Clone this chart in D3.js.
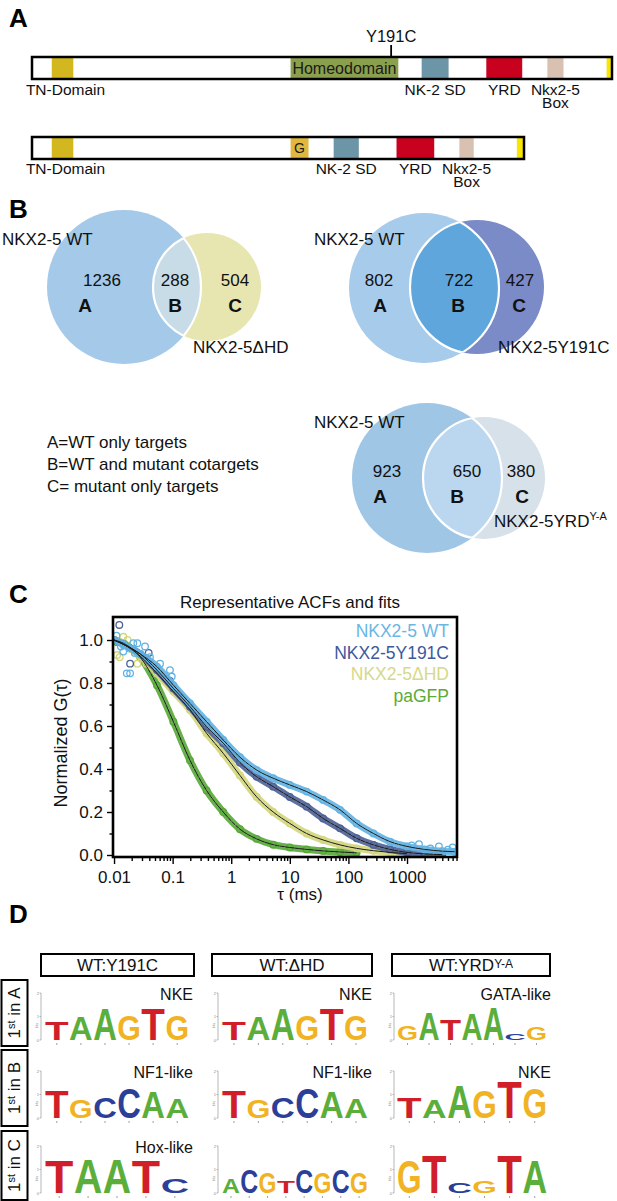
<!DOCTYPE html>
<html>
<head>
<meta charset="utf-8">
<script src="https://cdn.jsdelivr.net/npm/d3@7"></script>
<style>
  body { margin: 0; background: #fff; }
  svg { display: block; }
</style>
</head>
<body>
<svg id="fig"></svg>
<script>
const W = 617;
const H = 1201;
const FONT = "'Liberation Sans', Arial, Helvetica, sans-serif";

// ---------- data: panel A (domain positions in residues) ----------
const PROT_LEN = 324;
const DHD_LEN = 275;
const MUTATION_POS = 201;
const fullDomains = [
  { key: "TN", from: 12, to: 24 },
  { key: "HD", from: 145, to: 205 },
  { key: "SD", from: 218, to: 233 },
  { key: "YRD", from: 254, to: 274 },
  { key: "BOX", from: 288, to: 297 },
  { key: "END", from: 321, to: 324 },
];
const dhdDomains = [
  { key: "TN", from: 12, to: 24 },
  { key: "G", from: 145, to: 155 },
  { key: "SD", from: 169, to: 183 },
  { key: "YRD", from: 204, to: 225 },
  { key: "BOX", from: 239, to: 247 },
  { key: "END", from: 271, to: 275 },
];
const domainLabels = [
  { key: "TN", text: ["TN-Domain"] },
  { key: "SD", text: ["NK-2 SD"] },
  { key: "YRD", text: ["YRD"] },
  { key: "BOX", text: ["Nkx2-5", "Box"] },
];

// ---------- data: panel B ----------
const vennCounts = [
  [1236, 288, 504],
  [802, 722, 427],
  [923, 650, 380],
];
const vennNames = [
  ["NKX2-5 WT", "NKX2-5\u0394HD"],
  ["NKX2-5 WT", "NKX2-5Y191C"],
  ["NKX2-5 WT", "NKX2-5YRD"],
];
const vennLegend = [
  "A=WT only targets",
  "B=WT and mutant cotargets",
  "C= mutant only targets",
];

// ---------- data: panel C (tau in ms, normalized G) ----------
const tau = [0.01, 0.0144, 0.028, 0.054, 0.103, 0.198, 0.38, 0.73, 1.41, 2.72, 5.2, 10, 19.4, 37, 72, 138, 268, 515, 1000, 2000, 4000, 6500];
const wtG = [1.0, 0.98, 0.935, 0.876, 0.79, 0.705, 0.62, 0.535, 0.455, 0.395, 0.357, 0.326, 0.295, 0.256, 0.21, 0.147, 0.1, 0.062, 0.04, 0.026, 0.018, 0.015];
const y191cG = [1.0, 0.98, 0.935, 0.86, 0.775, 0.69, 0.597, 0.52, 0.43, 0.364, 0.318, 0.27, 0.225, 0.17, 0.124, 0.078, 0.047, 0.026, 0.012, 0.005, 0.002, null];
const dhdG = [1.0, 0.98, 0.925, 0.845, 0.76, 0.675, 0.566, 0.473, 0.37, 0.27, 0.2, 0.147, 0.1, 0.07, 0.047, 0.031, 0.02, 0.012, 0.006, null, null, null];
const gfpG = [1.0, 0.985, 0.92, 0.79, 0.62, 0.44, 0.3, 0.2, 0.12, 0.075, 0.048, 0.035, 0.026, 0.019, 0.014, 0.01, null, null, null, null, null, null];
// scattered raw points at the ends of the curves
const wtScatter = [[0.011, 1.02], [0.0131, 0.97], [0.0144, 0.946], [0.0165, 0.845], [0.0188, 0.845], [0.0213, 0.985], [0.025, 0.985], [0.0226, 0.94], [0.0338, 0.97], [0.041, 0.92], [0.061, 0.89], [0.09, 0.86], [0.0965, 0.83], [1200, 0.045], [1600, 0.05], [2500, 0.03], [3500, 0.04], [5000, 0.025], [6000, 0.035]];
const y191cScatter = [[0.0123, 1.07], [0.0188, 0.89], [0.039, 0.94], [0.09, 0.81]];
const dhdScatter = [[0.0113, 0.93], [0.0125, 0.92], [0.0144, 1.015], [0.017, 1.0], [0.025, 0.89], [0.0358, 0.89]];
const gfpScatter = [[0.0113, 0.99], [0.0188, 0.96]];
const acfNames = ["NKX2-5 WT", "NKX2-5Y191C", "NKX2-5\u0394HD", "paGFP"];
const yTicks = [0, 0.2, 0.4, 0.6, 0.8, 1.0];
const xTicks = [0.01, 0.1, 1, 10, 100, 1000];

// ---------- data: panel D (letter, bits) ----------
const logoColNames = ["WT:Y191C", "WT:\u0394HD", "WT:YRD"];
const logoRowNames = ["A", "B", "C"];
const motifA_Y191C = [["T", 0.8], ["A", 1.0], ["A", 1.36], ["G", 1.07], ["T", 1.36], ["G", 1.07]];
const motifA_DHD = [["T", 0.8], ["A", 1.0], ["A", 1.36], ["G", 1.07], ["T", 1.36], ["G", 1.07]];
const motifA_YRD = [["G", 0.64], ["A", 1.21], ["T", 0.93], ["A", 1.14], ["A", 1.43], ["C", 0.29], ["G", 0.57]];
const motifB_Y191C = [["T", 1.21], ["G", 0.79], ["C", 0.93], ["C", 1.29], ["A", 1.14], ["A", 0.86]];
const motifB_DHD = [["T", 1.21], ["G", 0.79], ["C", 0.93], ["C", 1.29], ["A", 1.14], ["A", 0.86]];
const motifB_YRD = [["T", 0.93], ["A", 0.79], ["A", 1.43], ["G", 1.21], ["T", 1.57], ["G", 1.29]];
const motifC_Y191C = [["T", 1.43], ["A", 1.5], ["A", 1.5], ["T", 1.43], ["C", 0.64]];
const motifC_DHD = [["A", 0.64], ["C", 1.0], ["G", 0.93], ["T", 0.5], ["C", 1.0], ["G", 0.93], ["C", 1.0], ["G", 0.93]];
const motifC_YRD = [["G", 1.43], ["T", 1.64], ["C", 0.43], ["G", 0.5], ["T", 1.64], ["A", 1.43]];
const motifNames = [
  ["NKE", "NKE", "GATA-like"],
  ["NF1-like", "NF1-like", "NKE"],
  ["Hox-like", "", ""],
];

// ---------- setup ----------
const svg = d3.select("#fig").attr("width", W).attr("height", H)
  .style("font-family", FONT);
svg.append("rect").attr("width", W).attr("height", H).attr("fill", "#fff");
const defs = svg.append("defs");

const txt = (g, x, y, s, size, opts = {}) =>
  g.append("text")
    .attr("x", x).attr("y", y)
    .attr("font-size", size)
    .attr("font-weight", opts.bold ? "bold" : null)
    .attr("text-anchor", opts.anchor || "start")
    .attr("fill", opts.fill || "#111")
    .text(s);

[["A", 9, 27], ["B", 9, 218], ["C", 9, 603], ["D", 9, 923]].forEach(([l, x, y]) =>
  txt(svg, x, y, l, 26, { bold: true, fill: "#000" }));

// ---------- panel A ----------
const domainColor = { TN: "#d3b71f", HD: "#8ba04c", SD: "#6c96a7", YRD: "#c8011f", BOX: "#d9c1b1", END: "#f8e500", G: "#e0b83f" };
const xAA = d3.scaleLinear().domain([1, PROT_LEN]).range([32, 612]);

const drawBar = (domains, len, y0, h, labelY) => {
  const g = svg.append("g");
  g.append("rect").attr("x", xAA(1)).attr("y", y0)
    .attr("width", xAA(len) - xAA(1)).attr("height", h).attr("fill", "#fff");
  g.selectAll("rect.dom").data(domains).join("rect").attr("class", "dom")
    .attr("x", (d) => xAA(d.from)).attr("y", y0)
    .attr("width", (d) => xAA(d.to) - xAA(d.from)).attr("height", h)
    .attr("fill", (d) => domainColor[d.key]);
  g.append("rect").attr("x", xAA(1)).attr("y", y0)
    .attr("width", xAA(len) - xAA(1)).attr("height", h)
    .attr("fill", "none").attr("stroke", "#000").attr("stroke-width", 2.5);
  domainLabels.forEach((lab) => {
    const d = domains.find((e) => e.key === lab.key);
    const cx = (xAA(d.from) + xAA(d.to)) / 2 + (lab.key === "TN" ? 3 : 0);
    const t = g.append("text").attr("y", labelY).attr("font-size", 15.5)
      .attr("text-anchor", "middle").attr("fill", "#111");
    lab.text.forEach((s, i) =>
      t.append("tspan").attr("x", cx).attr("dy", i ? 12.5 : 0).text(s));
  });
  return g;
};

const bar1 = drawBar(fullDomains, PROT_LEN, 57, 22, 95);
const hd = fullDomains.find((d) => d.key === "HD");
txt(bar1, (xAA(hd.from) + xAA(hd.to)) / 2, 74, "Homeodomain", 16, { anchor: "middle", fill: "#1a1a1a" });
bar1.append("line").attr("x1", xAA(MUTATION_POS)).attr("x2", xAA(MUTATION_POS))
  .attr("y1", 45).attr("y2", 57).attr("stroke", "#000").attr("stroke-width", 1.8);
txt(bar1, xAA(MUTATION_POS), 42, "Y191C", 16.5, { anchor: "middle" });

const bar2 = drawBar(dhdDomains, DHD_LEN, 137, 22, 174);
const gd = dhdDomains.find((d) => d.key === "G");
txt(bar2, (xAA(gd.from) + xAA(gd.to)) / 2, 153, "G", 14, { anchor: "middle", fill: "#1a1a1a" });

// ---------- panel B ----------
const vennLayout = [
  { a: [124, 287, 77], b: [207, 287, 54], colA: "#a4c9e9", colB: "#e7e6b0", colAB: "#c7dce7",
    nameA: [2, 245], nameB: [193, 353], counts: [[102, 286], [175, 286], [235, 286]], letters: [[85, 312], [175, 312], [235, 312]] },
  { a: [424, 288, 75], b: [477, 287, 67], colA: "#a7cbea", colB: "#7b8bc7", colAB: "#5ea6dc",
    nameA: [314, 245], nameB: [498, 353], counts: [[379, 286], [459, 286], [520, 286]], letters: [[380, 312], [458, 312], [519, 312]] },
  { a: [427, 478, 75], b: [484, 478, 61], colA: "#a0c6e6", colB: "#d6e1ea", colAB: "#bbd7ef",
    nameA: [314, 428], nameB: [494, 527], counts: [[387, 477], [467, 477], [521, 477]], letters: [[380, 503], [457, 503], [522, 503]] },
];

vennLayout.forEach((L, i) => {
  const g = svg.append("g");
  const circ = (sel, c) => sel.attr("cx", c[0]).attr("cy", c[1]).attr("r", c[2]);
  circ(defs.append("clipPath").attr("id", `va${i}`).append("circle"), L.a);
  circ(defs.append("clipPath").attr("id", `vb${i}`).append("circle"), L.b);
  circ(g.append("circle"), L.a).attr("fill", L.colA);
  circ(g.append("circle"), L.b).attr("fill", L.colB);
  circ(g.append("circle"), L.b).attr("fill", L.colAB).attr("clip-path", `url(#va${i})`);
  circ(g.append("circle"), L.b).attr("fill", "none").attr("stroke", "#fff")
    .attr("stroke-width", 2.2).attr("clip-path", `url(#va${i})`);
  circ(g.append("circle"), L.a).attr("fill", "none").attr("stroke", "#fff")
    .attr("stroke-width", 2.2).attr("clip-path", `url(#vb${i})`);

  vennCounts[i].forEach((n, j) => {
    txt(g, L.counts[j][0], L.counts[j][1], n, 17, { anchor: "middle" });
    txt(g, L.letters[j][0], L.letters[j][1], "ABC"[j], 19, { anchor: "middle", bold: true });
  });
  txt(g, L.nameA[0], L.nameA[1], vennNames[i][0], 17);
  const nb = txt(g, L.nameB[0], L.nameB[1], vennNames[i][1], 17);
  if (i === 2) nb.append("tspan").attr("font-size", 11).attr("dy", -7).text("Y-A");
});

vennLegend.forEach((s, i) => txt(svg, 47, 448 + i * 22, s, 17));

// ---------- panel C ----------
const plot = { left: 113, right: 457, top: 617, bottom: 857 };
const x = d3.scaleLog().domain([0.0096, 7130]).range([plot.left, plot.right]);
const y = d3.scaleLinear().domain([-0.0093, 1.1070]).range([plot.bottom, plot.top]);
const gC = svg.append("g");

txt(gC, 290, 608, "Representative ACFs and fits", 17, { anchor: "middle" });

defs.append("clipPath").attr("id", "plotClip").append("rect")
  .attr("x", plot.left).attr("y", plot.top)
  .attr("width", plot.right - plot.left).attr("height", plot.bottom - plot.top);

const series = [
  { vals: gfpG, scatter: gfpScatter, color: "#56a836", text: "#5aab37" },
  { vals: dhdG, scatter: dhdScatter, color: "#d3d67c", text: "#d6d98a" },
  { vals: y191cG, scatter: y191cScatter, color: "#4c6196", text: "#3e599b" },
  { vals: wtG, scatter: wtScatter, color: "#62b3e3", text: "#6ab7e4" },
];

const dataG = gC.append("g").attr("clip-path", "url(#plotClip)");
const line = d3.line()
  .defined((d) => d[1] != null)
  .x((d) => x(d[0])).y((d) => y(d[1]))
  .curve(d3.curveMonotoneX);

series.forEach((s) => {
  const pts = tau.map((t, i) => [t, s.vals[i]]).filter((d) => d[1] != null);
  dataG.append("path").datum(pts).attr("d", line)
    .attr("fill", "none").attr("stroke", s.color).attr("stroke-width", 7)
    .attr("stroke-linecap", "round").attr("stroke-linejoin", "round").attr("opacity", 0.9);
  dataG.append("path").datum(pts).attr("d", line)
    .attr("fill", "none").attr("stroke", "#fff").attr("stroke-width", 1.1)
    .attr("stroke-dasharray", "1.5 3.5").attr("opacity", 0.6);
  dataG.selectAll(null).data(pts.concat(s.scatter)).join("circle")
    .attr("cx", (d) => x(d[0])).attr("cy", (d) => y(d[1])).attr("r", 3.3)
    .attr("fill", "none").attr("stroke", s.color).attr("stroke-width", 1.3);
});
series.forEach((s) => {
  const pts = tau.map((t, i) => [t, s.vals[i]]).filter((d) => d[1] != null);
  dataG.append("path").datum(pts).attr("d", line)
    .attr("fill", "none").attr("stroke", "#1c1c1c").attr("stroke-width", 1);
});

// axes
const styleAxis = (g) => {
  g.select(".domain").remove();
  g.selectAll("line").attr("stroke", "#000").attr("stroke-width", 1.4);
  g.selectAll("text").attr("font-size", 17).attr("font-family", FONT).attr("fill", "#111");
};
gC.append("g").attr("transform", `translate(${plot.left},0)`)
  .call(d3.axisLeft(y).tickValues(yTicks).tickFormat(d3.format(".1f")).tickSize(6).tickPadding(4))
  .call(styleAxis);
gC.append("g").attr("transform", `translate(${plot.left},0)`)
  .call(d3.axisLeft(y).tickValues([0.1, 0.3, 0.5, 0.7, 0.9]).tickFormat("").tickSize(3.5))
  .call(styleAxis);
gC.append("g").attr("transform", `translate(0,${plot.bottom})`)
  .call(d3.axisBottom(x).tickValues(xTicks).tickFormat((d) => String(d)).tickSize(7).tickPadding(7))
  .call(styleAxis);
const minorX = x.ticks().filter((t) => Math.abs(Math.log10(t) - Math.round(Math.log10(t))) > 1e-6);
gC.append("g").attr("transform", `translate(0,${plot.bottom})`)
  .call(d3.axisBottom(x).tickValues(minorX).tickFormat("").tickSize(4))
  .call(styleAxis);

gC.append("rect").attr("x", plot.left).attr("y", plot.top)
  .attr("width", plot.right - plot.left).attr("height", plot.bottom - plot.top)
  .attr("fill", "none").attr("stroke", "#000").attr("stroke-width", 2.6);

txt(gC, 300, 900, "\u03c4 (ms)", 17, { anchor: "middle" });
txt(gC, 0, 0, "Normalized G(\u03c4)", 18, { anchor: "middle" })
  .attr("transform", "translate(67,743) rotate(-90)");

const legendOrder = [3, 2, 1, 0];
acfNames.forEach((n, i) => {
  const s = series[legendOrder[i]];
  txt(gC, 449, 637 + i * 21.7, n, 17.5, { anchor: "end", fill: s.text });
});

// ---------- panel D ----------
const letterColor = { A: "#5cae3b", C: "#2b3f99", G: "#f1b323", T: "#d11f29" };
const colBoxes = [[41, 194], [212, 372], [392, 550]];
const colLetters = [[45, 189], [222, 368], [397, 547]];
const colAxisX = [41, 218, 394];
const rowBoxes = [[980, 1046], [1050, 1126], [1131, 1200]];
const rowBase = [1040, 1118, 1193];
const motifs = [
  [motifA_Y191C, motifA_DHD, motifA_YRD],
  [motifB_Y191C, motifB_DHD, motifB_YRD],
  [motifC_Y191C, motifC_DHD, motifC_YRD],
];
const gD = svg.append("g");

logoColNames.forEach((n, c) => {
  const [x0, x1] = colBoxes[c];
  gD.append("rect").attr("x", x0).attr("y", 954).attr("width", x1 - x0).attr("height", 22)
    .attr("fill", "#fff").attr("stroke", "#000").attr("stroke-width", 2);
  const t = txt(gD, (x0 + x1) / 2, 971, n, 17, { anchor: "middle" });
  if (c === 2) t.append("tspan").attr("font-size", 12).attr("dy", -3).text("Y-A");
});

logoRowNames.forEach((n, r) => {
  const [y0, y1] = rowBoxes[r];
  gD.append("rect").attr("x", 1.5).attr("y", y0).attr("width", 26).attr("height", y1 - y0)
    .attr("fill", "#fff").attr("stroke", "#000").attr("stroke-width", 2);
  const t = gD.append("text").attr("font-size", 17).attr("text-anchor", "middle").attr("fill", "#111")
    .attr("transform", `translate(20,${(y0 + y1) / 2}) rotate(-90)`);
  t.append("tspan").text("1");
  t.append("tspan").attr("font-size", 11).attr("dy", -5).text("st");
  t.append("tspan").attr("dy", 5).text(" in " + n);
});

const drawLetter = (g, ch, x0, w, yBase, h) => {
  if (h < 0.5) return;
  const t = g.append("text").text(ch)
    .attr("font-size", 100).attr("font-weight", "bold").attr("font-family", FONT)
    .attr("fill", letterColor[ch]);
  const bb = t.node().getBBox();
  const sx = w / bb.width;
  const sy = h / 72;
  t.attr("transform", `translate(${x0},${yBase}) scale(${sx},${sy}) translate(${-bb.x},0)`);
};

motifs.forEach((row, r) => {
  row.forEach((motif, c) => {
    const g = gD.append("g");
    const base = rowBase[r];
    const yb = d3.scaleLinear().domain([0, 2]).range([base, base - 47]);
    const xb = d3.scaleBand().domain(d3.range(motif.length)).range(colLetters[c]).paddingInner(0.02);
    // mini axis
    const ax = colAxisX[c];
    g.append("line").attr("x1", ax).attr("x2", ax).attr("y1", yb(2)).attr("y2", yb(0))
      .attr("stroke", "#888").attr("stroke-width", 0.6);
    [0, 1, 2].forEach((v) => {
      g.append("line").attr("x1", ax - 1.5).attr("x2", ax).attr("y1", yb(v)).attr("y2", yb(v))
        .attr("stroke", "#888").attr("stroke-width", 0.6);
      txt(g, ax - 2, yb(v) + 1.5, v, 4, { anchor: "end", fill: "#888" });
    });
    txt(g, 0, 0, "bits", 3.5, { anchor: "middle", fill: "#888" })
      .attr("transform", `translate(${ax - 3},${yb(1) + 9}) rotate(-90)`);
    motif.forEach(([ch, bits], i) => {
      drawLetter(g, ch, xb(i), xb.bandwidth(), yb(0), yb(0) - yb(bits));
      g.append("line").attr("x1", xb(i) + xb.bandwidth() / 2).attr("x2", xb(i) + xb.bandwidth() / 2)
        .attr("y1", yb(0) + 3).attr("y2", yb(0) + 5).attr("stroke", "#777").attr("stroke-width", 0.7);
    });
    const name = motifNames[r][c];
    if (name) txt(g, colLetters[c][1] + 4, base - 40, name, 16, { anchor: "end" });
  });
});
</script>
</body>
</html>
